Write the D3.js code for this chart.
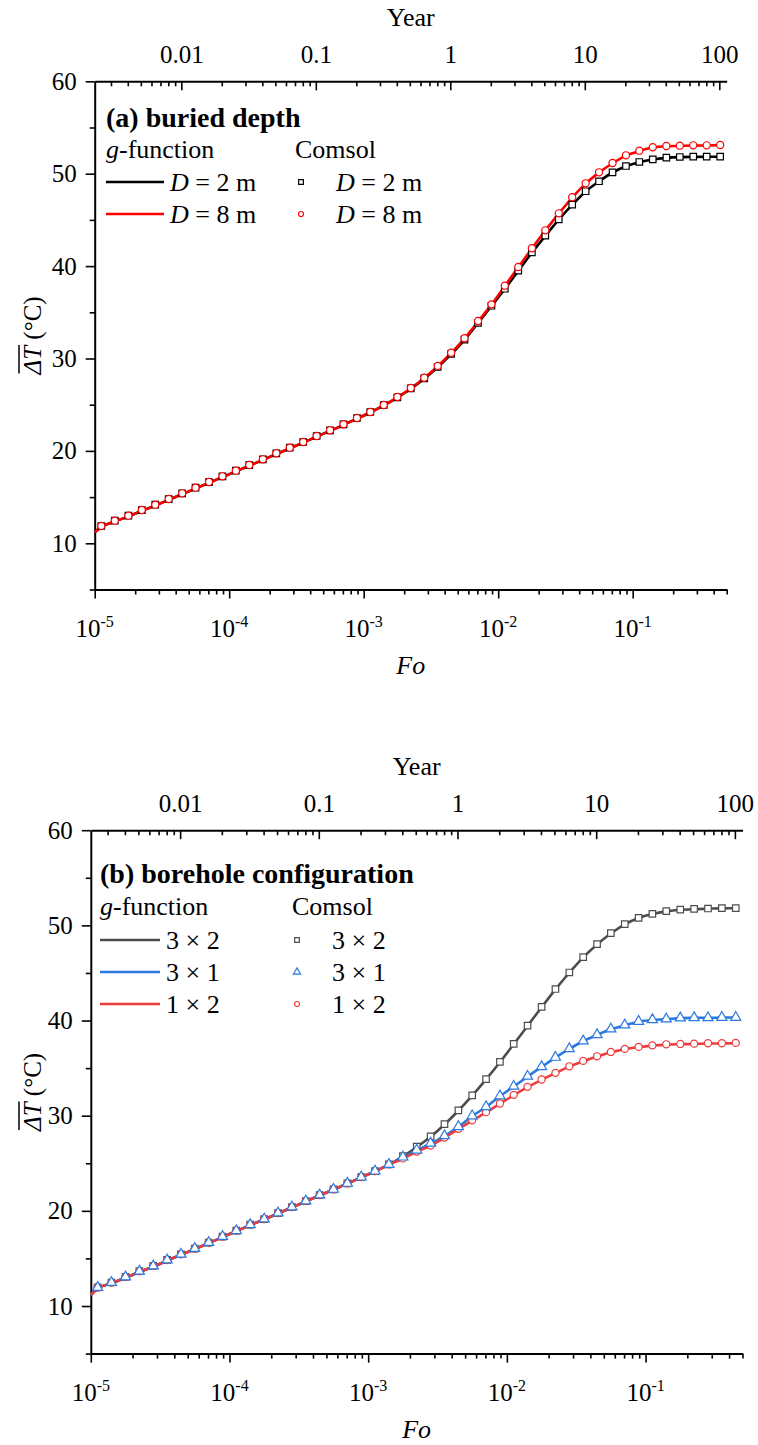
<!DOCTYPE html>
<html>
<head>
<meta charset="utf-8">
<script src="https://cdn.jsdelivr.net/npm/d3@7"></script>
<style>
  body { margin: 0; background: #fff; }
  svg { display: block; }
</style>
</head>
<body>
<svg id="chart" width="758" height="1445"></svg>
<script>
// ---------- data ----------
// Fourier number at each Comsol sample (10 per decade)
const foGrid = [
  1.12e-5, 1.41e-5, 1.78e-5, 2.24e-5, 2.82e-5, 3.55e-5, 4.47e-5, 5.62e-5, 7.08e-5, 8.91e-5,
  1.12e-4, 1.41e-4, 1.78e-4, 2.24e-4, 2.82e-4, 3.55e-4, 4.47e-4, 5.62e-4, 7.08e-4, 8.91e-4,
  1.12e-3, 1.41e-3, 1.78e-3, 2.24e-3, 2.82e-3, 3.55e-3, 4.47e-3, 5.62e-3, 7.08e-3, 8.91e-3,
  1.12e-2, 1.41e-2, 1.78e-2, 2.24e-2, 2.82e-2, 3.55e-2, 4.47e-2, 5.62e-2, 7.08e-2, 8.91e-2,
  1.12e-1, 1.41e-1, 1.78e-1, 2.24e-1, 2.82e-1, 3.55e-1, 4.47e-1
];
// Fourier number along the g-function curves (curve starts at the axis and runs past the last sample)
const foLine = [1e-5, ...foGrid, 0.47];

// (a) buried depth — g-function curves
const gD2 = [11.19,
  11.78, 12.36, 12.91, 13.51, 14.09, 14.70, 15.32, 15.93, 16.55, 17.16,
  17.78, 18.40, 19.02, 19.66, 20.28, 20.90, 21.54, 22.17, 22.82, 23.50,
  24.16, 24.92, 25.77, 26.73, 27.82, 29.05, 30.47, 32.02, 33.82, 35.68,
  37.52, 39.47, 41.46, 43.26, 45.03, 46.62, 48.07, 49.16, 50.13, 50.81,
  51.25, 51.54, 51.71, 51.79, 51.82, 51.83, 51.84,
  51.84];
const gD8 = [11.19,
  11.78, 12.36, 12.91, 13.51, 14.09, 14.70, 15.32, 15.93, 16.55, 17.16,
  17.78, 18.40, 19.02, 19.66, 20.28, 20.90, 21.54, 22.17, 22.82, 23.50,
  24.16, 24.92, 25.80, 26.78, 27.89, 29.16, 30.60, 32.16, 34.00, 35.83,
  37.85, 39.87, 41.90, 43.84, 45.68, 47.42, 48.93, 50.12, 51.13, 51.96,
  52.46, 52.83, 52.97, 53.01, 53.05, 53.06, 53.09,
  53.10];
// (a) buried depth — Comsol samples
const cD2 = [
  11.87, 12.45, 12.99, 13.60, 14.18, 14.79, 15.41, 16.02, 16.63, 17.25,
  17.86, 18.47, 19.09, 19.74, 20.35, 20.96, 21.61, 22.23, 22.88, 23.56,
  24.21, 24.97, 25.80, 26.76, 27.85, 29.08, 30.50, 32.05, 33.85, 35.71,
  37.55, 39.50, 41.49, 43.29, 45.06, 46.65, 48.10, 49.18, 50.15, 50.83,
  51.27, 51.56, 51.73, 51.81, 51.84, 51.84, 51.84];
const cD8 = [
  11.87, 12.45, 12.99, 13.60, 14.18, 14.79, 15.41, 16.02, 16.63, 17.25,
  17.86, 18.47, 19.09, 19.74, 20.35, 20.96, 21.61, 22.23, 22.88, 23.56,
  24.21, 24.97, 25.83, 26.81, 27.92, 29.19, 30.63, 32.19, 34.06, 35.86,
  37.88, 39.90, 41.93, 43.87, 45.71, 47.45, 48.96, 50.15, 51.16, 51.99,
  52.49, 52.86, 53.00, 53.03, 53.07, 53.07, 53.11];

// (b) borehole configuration — g-function curves
const g3x2 = [11.14,
  11.85, 12.38, 12.97, 13.58, 14.13, 14.77, 15.38, 15.98, 16.61, 17.24,
  17.87, 18.50, 19.10, 19.73, 20.36, 20.99, 21.62, 22.23, 22.86, 23.52,
  24.15, 24.85, 25.72, 26.71, 27.79, 29.08, 30.52, 32.10, 33.82, 35.62,
  37.51, 39.43, 41.40, 43.28, 45.02, 46.64, 48.00, 49.15, 50.10, 50.77,
  51.19, 51.47, 51.64, 51.71, 51.75, 51.79, 51.80,
  51.81];
const g3x1 = [11.14,
  11.85, 12.38, 12.97, 13.58, 14.13, 14.77, 15.38, 15.98, 16.61, 17.24,
  17.87, 18.50, 19.10, 19.73, 20.36, 20.99, 21.62, 22.23, 22.86, 23.52,
  24.15, 24.85, 25.62, 26.35, 27.08, 27.86, 28.82, 29.95, 30.92, 32.05,
  33.06, 34.11, 35.12, 36.10, 37.01, 37.82, 38.48, 39.08, 39.50, 39.88,
  40.06, 40.14, 40.25, 40.28, 40.29, 40.31, 40.32,
  40.33];
const g1x2 = [11.14,
  11.85, 12.38, 12.97, 13.58, 14.13, 14.77, 15.38, 15.98, 16.61, 17.24,
  17.87, 18.50, 19.10, 19.73, 20.36, 20.99, 21.62, 22.23, 22.86, 23.52,
  24.15, 24.85, 25.48, 26.21, 26.84, 27.68, 28.59, 29.49, 30.34, 31.25,
  32.16, 33.00, 33.77, 34.47, 35.16, 35.73, 36.21, 36.67, 36.99, 37.20,
  37.36, 37.47, 37.51, 37.54, 37.58, 37.59, 37.62,
  37.63];
// (b) borehole configuration — Comsol samples
const c3x2 = [
  11.95, 12.47, 13.06, 13.66, 14.21, 14.84, 15.44, 16.04, 16.67, 17.30,
  17.92, 18.55, 19.14, 19.77, 20.40, 21.03, 21.66, 22.26, 22.89, 23.55,
  24.18, 24.88, 25.75, 26.74, 27.82, 29.11, 30.55, 32.13, 33.85, 35.65,
  37.54, 39.46, 41.43, 43.31, 45.05, 46.67, 48.03, 49.18, 50.13, 50.79,
  51.21, 51.49, 51.66, 51.73, 51.77, 51.81, 51.81];
const c3x1 = [
  11.95, 12.47, 13.06, 13.66, 14.21, 14.84, 15.44, 16.04, 16.67, 17.30,
  17.92, 18.55, 19.14, 19.77, 20.40, 21.03, 21.66, 22.26, 22.89, 23.55,
  24.18, 24.88, 25.65, 26.38, 27.11, 27.89, 28.85, 29.98, 30.95, 32.08,
  33.09, 34.14, 35.15, 36.13, 37.04, 37.85, 38.51, 39.11, 39.53, 39.91,
  40.09, 40.16, 40.27, 40.30, 40.30, 40.33, 40.33];
const c1x2 = [
  11.95, 12.47, 13.06, 13.66, 14.21, 14.84, 15.44, 16.04, 16.67, 17.30,
  17.92, 18.55, 19.14, 19.77, 20.40, 21.03, 21.66, 22.26, 22.89, 23.55,
  24.18, 24.88, 25.51, 26.24, 26.87, 27.71, 28.62, 29.52, 30.37, 31.28,
  32.19, 33.03, 33.80, 34.50, 35.19, 35.76, 36.24, 36.70, 37.02, 37.23,
  37.39, 37.50, 37.54, 37.57, 37.61, 37.61, 37.65];

// axes
const foDomain = [1e-5, 0.5];
const tDomain = [5, 60];
const foMajor = [1e-5, 1e-4, 1e-3, 1e-2, 1e-1];
const foMajorExp = ["-5", "-4", "-3", "-2", "-1"];
const yearMajor = [0.01, 0.1, 1, 10, 100];
const yearLabels = ["0.01", "0.1", "1", "10", "100"];
const tMajor = [10, 20, 30, 40, 50, 60];
const tMinor = [5, 15, 25, 35, 45, 55];
const YEARS_PER_FO = 227;   // time conversion for the secondary axis

// ---------- drawing ----------
const FONT = '"Liberation Serif", "Times New Roman", Times, serif';
const svg = d3.select("#chart").style("font-family", FONT);

function minorLog(domain) {
  const out = [];
  const lo = Math.floor(Math.log10(domain[0])), hi = Math.ceil(Math.log10(domain[1]));
  for (let e = lo; e <= hi; e++) {
    for (let m = 2; m <= 9; m++) {
      const v = m * Math.pow(10, e);
      if (v >= domain[0] * 0.999 && v <= domain[1] * 1.001) out.push(v);
    }
  }
  return out;
}

function styleAxis(sel) {
  sel.select(".domain").attr("stroke", "#000").attr("stroke-width", 2);
  sel.selectAll(".tick line").attr("stroke", "#000").attr("stroke-width", 1.6);
  sel.selectAll(".tick text").attr("fill", "#000").style("font-family", FONT).style("font-size", "25px");
  sel.attr("font-family", null).attr("font-size", null);
}

function richText(parent, x, y, parts, size, extra) {
  const t = parent.append("text").attr("x", x).attr("y", y)
    .style("font-size", size + "px").attr("fill", "#000");
  if (extra) extra(t);
  parts.forEach(p => {
    const s = t.append("tspan").text(p.t);
    if (p.i) s.style("font-style", "italic");
    if (p.b) s.style("font-weight", "bold");
  });
  return t;
}

function drawMarker(sel, kind, size, color) {
  const sym = { square: d3.symbolSquare, circle: d3.symbolCircle, triangle: d3.symbolTriangle }[kind];
  return sel.append("path")
    .attr("d", d3.symbol(sym, size))
    .attr("fill", "#fff").attr("stroke", color).attr("stroke-width", 1.2);
}

function drawPanel(cfg) {
  const { left, right, top, bottom } = cfg.box;
  const x = d3.scaleLog().domain(foDomain).range([left, right]);
  const xYr = d3.scaleLog().domain(foDomain.map(f => f * YEARS_PER_FO)).range([left, right]);
  const y = d3.scaleLinear().domain(tDomain).range([bottom, top]);
  const g = svg.append("g");

  // bottom axis (Fo)
  g.append("g").attr("transform", `translate(0,${bottom})`)
    .call(d3.axisBottom(x).tickValues(minorLog(foDomain)).tickSize(5).tickFormat(""))
    .call(s => s.select(".domain").remove()).call(styleAxis);
  g.append("g").attr("transform", `translate(0,${bottom})`)
    .call(d3.axisBottom(x).tickValues(foMajor).tickSize(9).tickSizeOuter(0).tickFormat(""))
    .call(styleAxis);
  foMajor.forEach((v, i) => {
    const t = g.append("text").attr("x", x(v)).attr("y", bottom + 47)
      .attr("text-anchor", "middle").style("font-size", "25px").attr("fill", "#000");
    t.append("tspan").text("10");
    t.append("tspan").attr("dy", -10).style("font-size", "16px").text(foMajorExp[i]);
  });
  richText(g, (left + right) / 2, bottom + 84, [{ t: "Fo", i: true }], 26, t => t.attr("text-anchor", "middle"));

  // top axis (Year), ticks pointing into the plot
  g.append("g").attr("transform", `translate(0,${top})`)
    .call(d3.axisTop(xYr).tickValues(minorLog(xYr.domain())).tickSize(-5).tickFormat(""))
    .call(s => s.select(".domain").remove()).call(styleAxis);
  g.append("g").attr("transform", `translate(0,${top})`)
    .call(d3.axisTop(xYr).tickValues(yearMajor).tickSize(-9).tickSizeOuter(0).tickPadding(18)
      .tickFormat((d, i) => yearLabels[i]))
    .call(styleAxis);
  richText(g, (left + right) / 2, top - 55, [{ t: "Year" }], 26, t => t.attr("text-anchor", "middle"));

  // left axis (temperature)
  g.append("g").attr("transform", `translate(${left},0)`)
    .call(d3.axisLeft(y).tickValues(tMinor).tickSize(5).tickFormat(""))
    .call(s => s.select(".domain").remove()).call(styleAxis);
  g.append("g").attr("transform", `translate(${left},0)`)
    .call(d3.axisLeft(y).tickValues(tMajor).tickSize(9).tickSizeOuter(0).tickPadding(9))
    .call(styleAxis);

  // rotated axis title with overbar on ΔT
  const ty = g.append("g").attr("transform", `translate(41,${(top + bottom) / 2}) rotate(-90)`);
  const tt = ty.append("text").attr("x", 0).attr("y", 0).style("font-size", "25px").attr("fill", "#000");
  const dT = tt.append("tspan").style("font-style", "italic").text("\u0394T");
  tt.append("tspan").text(" (\u00B0C)");
  const total = tt.node().getComputedTextLength();
  const wdT = dT.node().getComputedTextLength();
  tt.attr("x", -total / 2);
  ty.append("line").attr("x1", -total / 2 + 1).attr("x2", -total / 2 + wdT + 1)
    .attr("y1", -22).attr("y2", -22).attr("stroke", "#000").attr("stroke-width", 1.5);

  // g-function curves
  const line = d3.line().x(d => x(d[0])).y(d => y(d[1])).curve(d3.curveMonotoneX);
  cfg.curves.forEach(c => {
    g.append("path").datum(foLine.map((f, i) => [f, c.vals[i]]))
      .attr("d", line).attr("fill", "none").attr("stroke", c.color)
      .attr("stroke-width", c.width).attr("stroke-linejoin", "round");
  });
  // Comsol samples (drawn in list order; the legend row is given separately)
  cfg.samples.forEach(s => {
    const mg = g.append("g");
    foGrid.forEach((f, i) => {
      drawMarker(mg, s.kind, s.size, s.color)
        .attr("transform", `translate(${x(f)},${y(s.vals[i])})`);
    });
  });

  // legend
  const L = cfg.legend;
  richText(g, L.x, L.titleY, [{ t: L.title, b: true }], 28);
  richText(g, L.x, L.headY, [{ t: "g", i: true }, { t: "-function" }], 26);
  richText(g, L.cx, L.headY, [{ t: "Comsol" }], 26);
  cfg.curves.forEach((c, i) => {
    const ry = L.rowY + i * L.rowGap;
    g.append("line").attr("x1", L.x).attr("x2", L.x + L.lineLen).attr("y1", ry).attr("y2", ry)
      .attr("stroke", c.color).attr("stroke-width", c.width);
    richText(g, L.x + L.lineLen + 6, ry + 9, c.label, 26);
  });
  cfg.samples.forEach((s, i) => {
    const ry = L.rowY + s.row * L.rowGap;
    drawMarker(g, s.kind, s.legendSize, s.color).attr("transform", `translate(${L.mx},${ry})`);
    richText(g, L.mtx, ry + 9, s.label, 26);
  });
}

const labD2 = [{ t: "D", i: true }, { t: " = 2 m" }];
const labD8 = [{ t: "D", i: true }, { t: " = 8 m" }];

drawPanel({
  box: { left: 94.7, right: 726.7, top: 81.3, bottom: 589.5 },
  curves: [
    { vals: gD2, color: "#000000", width: 2.6, label: labD2 },
    { vals: gD8, color: "#ff0000", width: 2.6, label: labD8 }
  ],
  samples: [
    { vals: cD2, kind: "square", size: 42, legendSize: 22, color: "#000000", label: labD2, row: 0 },
    { vals: cD8, kind: "circle", size: 40, legendSize: 20, color: "#ff0000", label: labD8, row: 1 }
  ],
  legend: { x: 106, title: "(a) buried depth", titleY: 127, headY: 158, cx: 295,
            rowY: 182, rowGap: 32, lineLen: 58, mx: 301, mtx: 336 }
});

drawPanel({
  box: { left: 90.8, right: 742.5, top: 830.2, bottom: 1353.6 },
  curves: [
    { vals: g3x2, color: "#4d4d4d", width: 2.6, label: [{ t: "3 \u00D7 2" }] },
    { vals: g3x1, color: "#2a78e0", width: 2.6, label: [{ t: "3 \u00D7 1" }] },
    { vals: g1x2, color: "#ee3b3b", width: 2.6, label: [{ t: "1 \u00D7 2" }] }
  ],
  samples: [
    { vals: c3x2, kind: "square", size: 42, legendSize: 22, color: "#4d4d4d", label: [{ t: "3 \u00D7 2" }], row: 0 },
    { vals: c1x2, kind: "circle", size: 40, legendSize: 20, color: "#ee3b3b", label: [{ t: "1 \u00D7 2" }], row: 2 },
    { vals: c3x1, kind: "triangle", size: 44, legendSize: 22, color: "#2a78e0", label: [{ t: "3 \u00D7 1" }], row: 1 }
  ],
  legend: { x: 100, title: "(b) borehole configuration", titleY: 883, headY: 915, cx: 292,
            rowY: 940, rowGap: 32, lineLen: 60, mx: 297, mtx: 332 }
});
</script>
</body>
</html>
